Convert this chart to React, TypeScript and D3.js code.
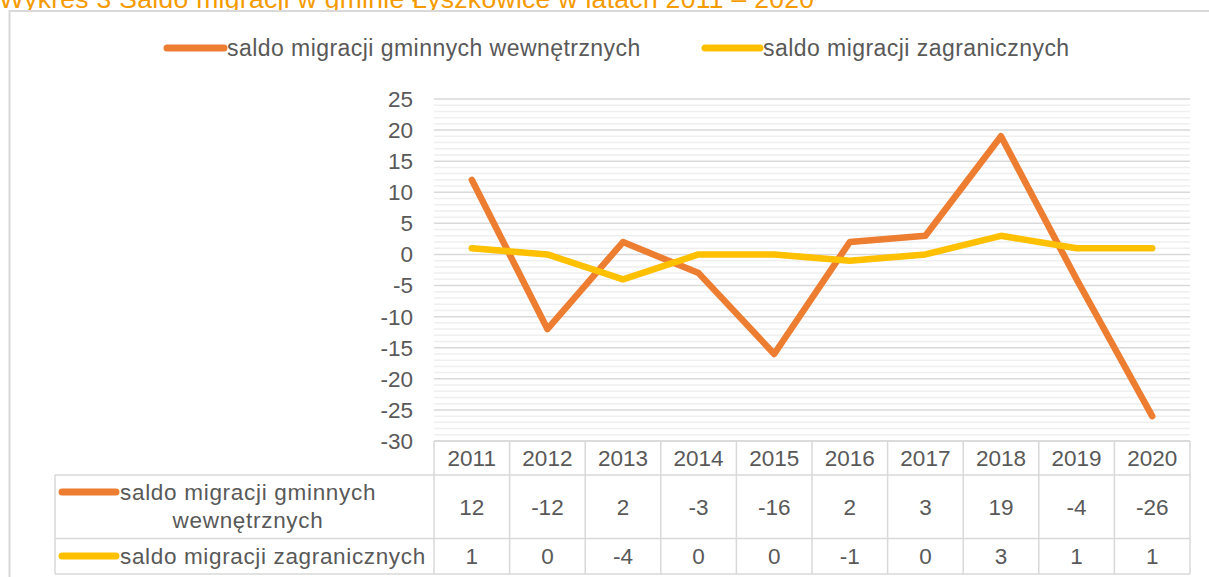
import React from "react";
import * as d3 from "d3";

const years = ["2011", "2012", "2013", "2014", "2015", "2016", "2017", "2018", "2019", "2020"];
const seriesNames = ["saldo migracji gminnych wewnętrznych", "saldo migracji zagranicznych"];
const internalValues = [12, -12, 2, -3, -16, 2, 3, 19, -4, -26];
const foreignValues = [1, 0, -4, 0, 0, -1, 0, 3, 1, 1];
const yTicks = [25, 20, 15, 10, 5, 0, -5, -10, -15, -20, -25, -30];
const titleText = "Wykres 3 Saldo migracji w gminie Łyszkowice w latach 2011 – 2020";

const W = 1209;
const H = 577;
const FONT = "'Liberation Sans', Arial, sans-serif";
const TXT = "#595959";
const GRID_MAJOR = "#d9d9d9";
const GRID_MINOR = "#efefef";
const COLORS = ["#ED7D31", "#FFC000"];

export default function App() {
  const x = d3.scaleBand<string>().domain(years).range([434, 1190]);
  const y = d3.scaleLinear().domain([-30, 25]).range([441, 99]);
  const cx = (d: string) => (x(d) as number) + x.bandwidth() / 2;
  const minorTicks = d3.range(-30, 26, 1).filter((v) => v % 5 !== 0);

  const line = d3
    .line<number>()
    .x((_, i) => cx(years[i]))
    .y((v) => y(v));

  const series = [internalValues, foreignValues];

  const tableLeft = 55;
  const headerTop = 441;
  const headerBottom = 475;
  const row1Bottom = 538.5;
  const row2Bottom = 574;
  const plotLeft = 434;
  const plotRight = 1190;
  const rowMid = [(headerBottom + row1Bottom) / 2, (row1Bottom + row2Bottom) / 2];

  return (
    <svg
      width={W}
      height={H}
      style={{ position: "absolute", left: 0, top: 0, background: "#fff" }}
      fontFamily={FONT}
    >
      {/* title (clipped at top, as in the reference) */}
      <text x={-1} y={8} fontSize={26.5} letterSpacing={0.3} fill="#F59B00">
        {titleText}
      </text>
      {/* chart border */}
      <rect x={9.5} y={11} width={W + 20} height={H + 20} fill="#fff" stroke={GRID_MAJOR} strokeWidth={2} />

      {/* top legend */}
      {[
        { x0: 167, x1: 224, tx: 227 },
        { x0: 705, x1: 760, tx: 763 },
      ].map((l, i) => (
        <g key={i}>
          <line x1={l.x0} x2={l.x1} y1={48} y2={48} stroke={COLORS[i]} strokeWidth={7} strokeLinecap="round" />
          <text x={l.tx} y={48} dy="0.35em" fontSize={23} letterSpacing={0.45} fill={TXT}>
            {seriesNames[i]}
          </text>
        </g>
      ))}

      {/* gridlines */}
      {minorTicks.map((t) => (
        <line key={"m" + t} x1={plotLeft} x2={plotRight} y1={y(t)} y2={y(t)} stroke={GRID_MINOR} strokeWidth={1.5} />
      ))}
      {yTicks.map((t) => (
        <line key={"M" + t} x1={plotLeft} x2={plotRight} y1={y(t)} y2={y(t)} stroke={GRID_MAJOR} strokeWidth={1.5} />
      ))}

      {/* y labels */}
      {yTicks.map((t) => (
        <text key={"yl" + t} x={413} y={y(t)} dy="0.35em" textAnchor="end" fontSize={22.5} fill={TXT}>
          {t}
        </text>
      ))}

      {/* lines */}
      {series.map((s, i) => (
        <path
          key={"s" + i}
          d={line(s) as string}
          fill="none"
          stroke={COLORS[i]}
          strokeWidth={6.5}
          strokeLinejoin="round"
          strokeLinecap="round"
        />
      ))}

      {/* data table */}
      <g stroke={GRID_MAJOR} strokeWidth={1.5} fill="none">
        <line x1={plotLeft} x2={plotRight} y1={headerTop} y2={headerTop} />
        <line x1={tableLeft} x2={plotRight} y1={headerBottom} y2={headerBottom} />
        <line x1={tableLeft} x2={plotRight} y1={row1Bottom} y2={row1Bottom} />
        <line x1={tableLeft} x2={plotRight} y1={row2Bottom} y2={row2Bottom} />
        <line x1={tableLeft} x2={tableLeft} y1={headerBottom} y2={row2Bottom} />
        {years.map((yr) => (
          <line key={"v" + yr} x1={x(yr)} x2={x(yr)} y1={headerTop} y2={row2Bottom} />
        ))}
        <line x1={plotRight} x2={plotRight} y1={headerTop} y2={row2Bottom} />
      </g>
      {years.map((yr) => (
        <text key={"h" + yr} x={cx(yr)} y={(headerTop + headerBottom) / 2} dy="0.35em" textAnchor="middle" fontSize={22.5} fill={TXT}>
          {yr}
        </text>
      ))}
      {series.map((s, i) =>
        s.map((v, j) => (
          <text key={"c" + i + j} x={cx(years[j])} y={rowMid[i]} dy="0.35em" textAnchor="middle" fontSize={22.5} fill={TXT}>
            {v}
          </text>
        ))
      )}

      {/* table legend column */}
      <line x1={62} x2={116} y1={492} y2={492} stroke={COLORS[0]} strokeWidth={7} strokeLinecap="round" />
      <text x={120} y={492} dy="0.35em" fontSize={22.5} letterSpacing={0.7} fill={TXT}>
        saldo migracji gminnych
      </text>
      <text x={248} y={520} dy="0.35em" textAnchor="middle" fontSize={22.5} letterSpacing={0.7} fill={TXT}>
        wewnętrznych
      </text>
      <line x1={62} x2={116} y1={556} y2={556} stroke={COLORS[1]} strokeWidth={7} strokeLinecap="round" />
      <text x={120} y={556} dy="0.35em" fontSize={22.5} letterSpacing={0.65} fill={TXT}>
        {seriesNames[1]}
      </text>
    </svg>
  );
}
